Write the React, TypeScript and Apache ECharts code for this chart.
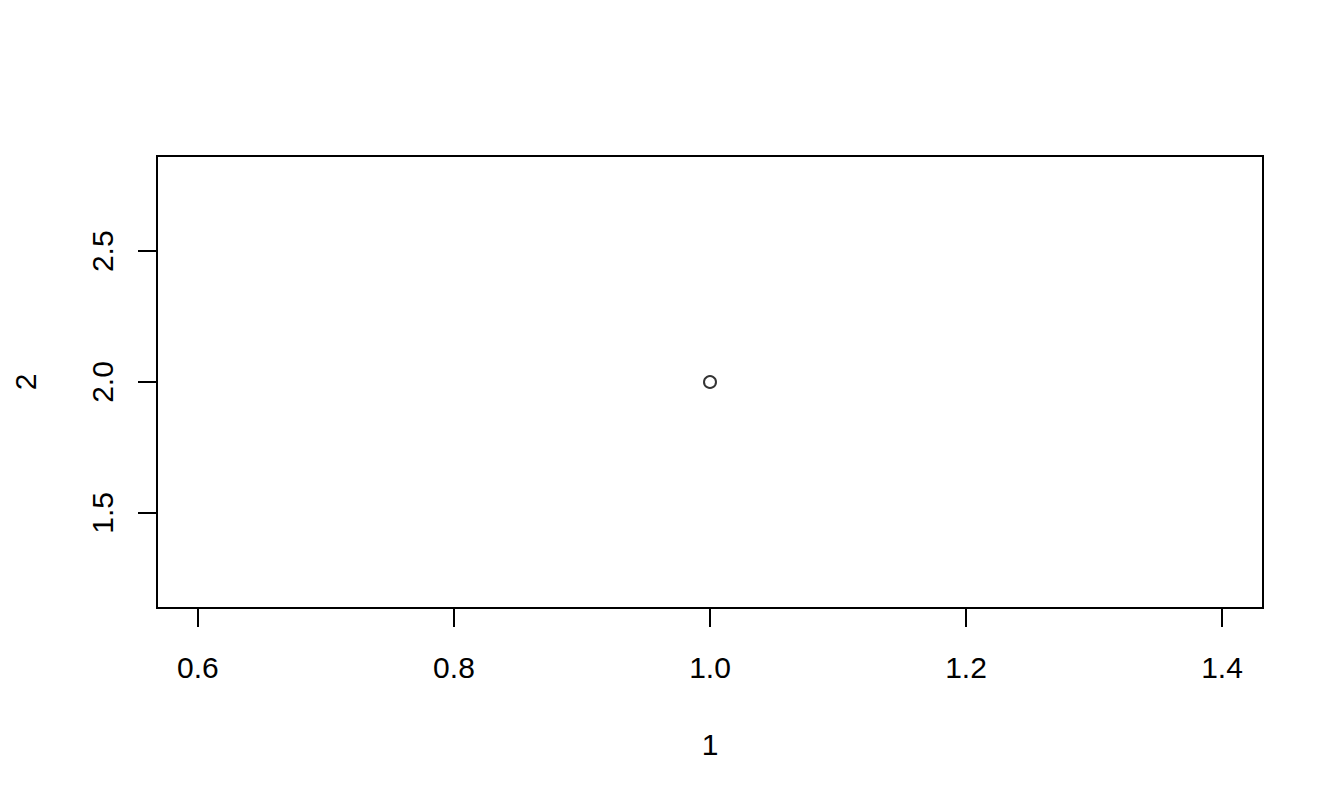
import React, { useEffect, useRef } from "react";
import * as echarts from "echarts";

const xValues = [1];
const yValues = [2];
const xTicks = [0.6, 0.8, 1.0, 1.2, 1.4];
const yTicks = [1.5, 2.0, 2.5];
const xRange = [0.568, 1.432];
const yRange = [1.136, 2.864];
const xTitle = "1";
const yTitle = "2";

const FONT = "'Liberation Sans', Arial, sans-serif";
const FS = 30;

export default function App() {
  const ref = useRef<HTMLDivElement>(null);
  useEffect(() => {
    if (!ref.current) return;
    const chart = echarts.init(ref.current, null, { renderer: "svg" });
    const points = xValues.map((x, i) => [x, yValues[i]]);
    chart.setOption({
      animation: false,
      backgroundColor: "#ffffff",
      grid: {
        left: 157,
        right: 81,
        top: 156,
        bottom: 198,
        show: true,
        borderColor: "#000",
        borderWidth: 2,
        backgroundColor: "transparent",
      },
      xAxis: {
        type: "value",
        min: xRange[0],
        max: xRange[1],
        name: xTitle,
        nameLocation: "middle",
        nameGap: 121,
        nameTextStyle: { color: "#000", fontSize: FS, fontFamily: FONT },
        axisLine: { show: false },
        splitLine: { show: false },
        axisTick: {
          show: true,
          length: 19,
          customValues: xTicks,
          lineStyle: { color: "#000", width: 2 },
        },
        axisLabel: {
          customValues: xTicks,
          margin: 44,
          color: "#000",
          fontSize: FS,
          fontFamily: FONT,
          formatter: (v: number) => v.toFixed(1),
        },
      },
      yAxis: {
        type: "value",
        min: yRange[0],
        max: yRange[1],
        name: yTitle,
        nameLocation: "middle",
        nameRotate: 90,
        nameGap: 117,
        nameTextStyle: { color: "#000", fontSize: FS, fontFamily: FONT },
        axisLine: { show: false },
        splitLine: { show: false },
        axisTick: {
          show: true,
          length: 19,
          customValues: yTicks,
          lineStyle: { color: "#000", width: 2 },
        },
        axisLabel: {
          customValues: yTicks,
          rotate: 90,
          margin: 40,
          color: "#000",
          fontSize: FS,
          fontFamily: FONT,
          formatter: (v: number) => v.toFixed(1),
        },
      },
      series: [
        {
          type: "scatter",
          data: points,
          symbol: "circle",
          symbolSize: 12,
          itemStyle: { color: "transparent", borderColor: "#000", borderWidth: 2 },
        },
      ],
    });
    return () => chart.dispose();
  }, []);
  return (
    <div
      ref={ref}
      style={{ position: "absolute", left: 0, top: 0, width: 1344, height: 806 }}
    />
  );
}
